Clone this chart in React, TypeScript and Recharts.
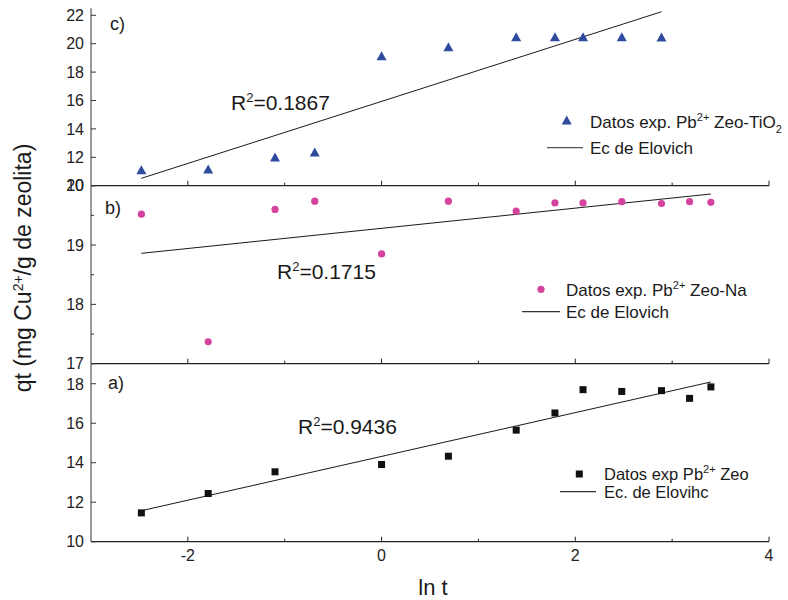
import React from "react";
import { ScatterChart, Scatter, XAxis, YAxis } from "recharts";

const WIDTH = 788;
const HEIGHT = 600;
const FONT = "'Liberation Sans', Arial, Helvetica, sans-serif";
const X_AXIS_HEIGHT = 30;
const Y_AXIS_WIDTH = 91;
const RIGHT_MARGIN = 19;
const TICK_GAP = 7;

// ln t for the sampling times (h)
const lnT = [-2.48, -1.79, -1.1, -0.69, 0, 0.69, 1.39, 1.79, 2.08, 2.48, 2.89, 3.18, 3.4];

// qt measured on each zeolite
const qtZeoTiO2 = [11.06, 11.1, 11.95, 12.3, 19.08, 19.72, 20.42, 20.42, 20.42, 20.42, 20.4, null, null];
const qtZeoNa = [19.52, 17.37, 19.6, 19.74, 18.85, 19.74, 19.57, 19.71, 19.71, 19.73, 19.7, 19.73, 19.72];
const qtZeo = [11.46, 12.44, 13.54, null, 13.91, 14.33, 15.65, 16.52, 17.7, 17.61, 17.65, 17.26, 17.84];

// Elovich fits, end points
const fitTiO2X = [-2.48, 2.89];
const fitTiO2Y = [10.52, 22.25];
const fitNaX = [-2.48, 3.4];
const fitNaY = [18.86, 19.86];
const fitZeoX = [-2.48, 3.4];
const fitZeoY = [11.57, 18.09];

const xTicks = [-2, -1, 0, 1, 2, 3, 4];
const xMajor = [-2, 0, 2, 4];

type Pt = { x: number; y: number };

function toPoints(xs: number[], ys: (number | null)[]): Pt[] {
  const out: Pt[] = [];
  xs.forEach((x, i) => {
    const y = ys[i];
    if (y != null) out.push({ x, y });
  });
  return out;
}

const Triangle = (p: any) => (
  <polygon
    points={`${p.cx},${p.cy - 5.5} ${p.cx + 5},${p.cy + 3.5} ${p.cx - 5},${p.cy + 3.5}`}
    fill="#2f4b9e"
  />
);
const Dot = (p: any) => <circle cx={p.cx} cy={p.cy} r={3.6} fill="#d4449f" />;
const Square = (p: any) => (
  <rect x={p.cx - 3.5} y={p.cy - 3.5} width={7} height={7} fill="#111" />
);
const NoShape = () => <g />;

function makeYTick(major: number[]) {
  return (props: any) => {
    const { x, y, payload } = props;
    const v = payload.value;
    const isMajor = major.includes(v);
    const ax = x + TICK_GAP;
    return (
      <g>
        <line x1={ax} x2={ax + (isMajor ? 5 : 3)} y1={y} y2={y} stroke="#333" />
        {isMajor && (
          <text x={x} y={y} dy="0.36em" textAnchor="end" fontSize={16} fill="#222" fontFamily={FONT}>
            {v}
          </text>
        )}
      </g>
    );
  };
}

function makeXTick(showLabels: boolean) {
  return (props: any) => {
    const { x, y, payload } = props;
    const v = payload.value;
    const isMajor = xMajor.includes(v);
    return (
      <g>
        <line x1={x} x2={x} y1={y} y2={y - (isMajor ? 5 : 3)} stroke="#222" />
        {showLabels && isMajor && (
          <text x={x} y={y + 19} textAnchor="middle" fontSize={16} fill="#222" fontFamily={FONT}>
            {v}
          </text>
        )}
      </g>
    );
  };
}

type PanelProps = {
  top: number;
  bottom: number;
  domain: [number, number];
  ticks: number[];
  major: number[];
  showXLabels: boolean;
  points: Pt[];
  fit: Pt[];
  shape: (p: any) => React.ReactElement;
};

function Panel({ top, bottom, domain, ticks, major, showXLabels, points, fit, shape }: PanelProps) {
  return (
    <div style={{ position: "absolute", left: 0, top: 0 }}>
      <ScatterChart
        width={WIDTH}
        height={HEIGHT}
        margin={{ top, right: RIGHT_MARGIN, bottom: HEIGHT - bottom - X_AXIS_HEIGHT, left: 0 }}
      >
        <XAxis
          type="number"
          dataKey="x"
          domain={[-3, 4]}
          ticks={xTicks}
          allowDataOverflow
          height={X_AXIS_HEIGHT}
          axisLine={{ stroke: "#222", strokeWidth: 1.3 }}
          tickLine={false}
          tickSize={0}
          tickMargin={0}
          tick={makeXTick(showXLabels)}
        />
        <YAxis
          type="number"
          dataKey="y"
          domain={domain}
          ticks={ticks}
          allowDataOverflow
          width={Y_AXIS_WIDTH}
          axisLine={{ stroke: "#333", strokeWidth: 1 }}
          tickLine={false}
          tickSize={0}
          tickMargin={TICK_GAP}
          tick={makeYTick(major)}
        />
        <Scatter
          data={fit}
          line={{ stroke: "#1a1a1a", strokeWidth: 1 }}
          shape={NoShape}
          isAnimationActive={false}
        />
        <Scatter data={points} shape={shape} isAnimationActive={false} />
      </ScatterChart>
    </div>
  );
}

const textStyle = { fontFamily: FONT, fill: "#1a1a1a" };

export default function App() {
  return (
    <div
      style={{
        position: "absolute",
        left: 0,
        top: 0,
        width: WIDTH,
        height: HEIGHT,
        background: "#fff",
        overflow: "hidden",
      }}
    >
      <Panel
        top={8.2}
        bottom={185.7}
        domain={[10, 22.5]}
        ticks={[10, 11, 12, 13, 14, 15, 16, 17, 18, 19, 20, 21, 22]}
        major={[10, 12, 14, 16, 18, 20, 22]}
        showXLabels={false}
        points={toPoints(lnT, qtZeoTiO2)}
        fit={toPoints(fitTiO2X, fitTiO2Y)}
        shape={Triangle}
      />
      <Panel
        top={185.7}
        bottom={363.7}
        domain={[17, 20]}
        ticks={[17, 17.5, 18, 18.5, 19, 19.5, 20]}
        major={[17, 18, 19, 20]}
        showXLabels={false}
        points={toPoints(lnT, qtZeoNa)}
        fit={toPoints(fitNaX, fitNaY)}
        shape={Dot}
      />
      <Panel
        top={364}
        bottom={541.7}
        domain={[10, 19]}
        ticks={[10, 11, 12, 13, 14, 15, 16, 17, 18]}
        major={[10, 12, 14, 16, 18]}
        showXLabels={true}
        points={toPoints(lnT, qtZeo)}
        fit={toPoints(fitZeoX, fitZeoY)}
        shape={Square}
      />

      {/* titles, panel letters, R² notes and legends */}
      <svg
        width={WIDTH}
        height={HEIGHT}
        style={{ position: "absolute", left: 0, top: 0, pointerEvents: "none" }}
      >
        <g style={textStyle}>
          <text x={31} y={268} fontSize={23} textAnchor="middle" transform="rotate(-90 31 268)">
            qt (mg Cu<tspan dy={-8} fontSize={14}>2+</tspan>
            <tspan dy={8}>/g de zeolita)</tspan>
          </text>
          <text x={433} y={595} fontSize={22} textAnchor="middle">
            ln t
          </text>

          <text x={110} y={30} fontSize={18}>c)</text>
          <text x={105} y={214} fontSize={18}>b)</text>
          <text x={108} y={389} fontSize={18}>a)</text>

          <text x={231} y={110} fontSize={21}>
            R<tspan dy={-8} fontSize={13}>2</tspan>
            <tspan dy={8}>=0.1867</tspan>
          </text>
          <text x={277} y={279} fontSize={21}>
            R<tspan dy={-8} fontSize={13}>2</tspan>
            <tspan dy={8}>=0.1715</tspan>
          </text>
          <text x={298} y={434} fontSize={21}>
            R<tspan dy={-8} fontSize={13}>2</tspan>
            <tspan dy={8}>=0.9436</tspan>
          </text>

          {/* legend c */}
          <Triangle cx={566.7} cy={121} />
          <text x={590} y={128} fontSize={17}>
            Datos exp. Pb<tspan dy={-7} fontSize={11}>2+</tspan>
            <tspan dy={7}> Zeo-TiO</tspan>
            <tspan dy={5} fontSize={11}>2</tspan>
          </text>
          <line x1={547} x2={583} y1={147.7} y2={147.7} stroke="#555" strokeWidth={1.3} />
          <text x={590} y={154} fontSize={17}>Ec de Elovich</text>

          {/* legend b */}
          <Dot cx={541} cy={289.3} />
          <text x={566} y={296} fontSize={17}>
            Datos exp. Pb<tspan dy={-7} fontSize={11}>2+</tspan>
            <tspan dy={7}> Zeo-Na</tspan>
          </text>
          <line x1={522} x2={560} y1={311.7} y2={311.7} stroke="#333" strokeWidth={1.2} />
          <text x={566} y={318} fontSize={17}>Ec de Elovich</text>

          {/* legend a */}
          <Square cx={579.3} cy={474} />
          <text x={604} y={480} fontSize={16.5}>
            Datos exp Pb<tspan dy={-7} fontSize={11}>2+</tspan>
            <tspan dy={7}> Zeo</tspan>
          </text>
          <line x1={560} x2={596} y1={491.7} y2={491.7} stroke="#333" strokeWidth={1.2} />
          <text x={604} y={498} fontSize={16.5}>Ec. de Elovihc</text>
        </g>
      </svg>
    </div>
  );
}
